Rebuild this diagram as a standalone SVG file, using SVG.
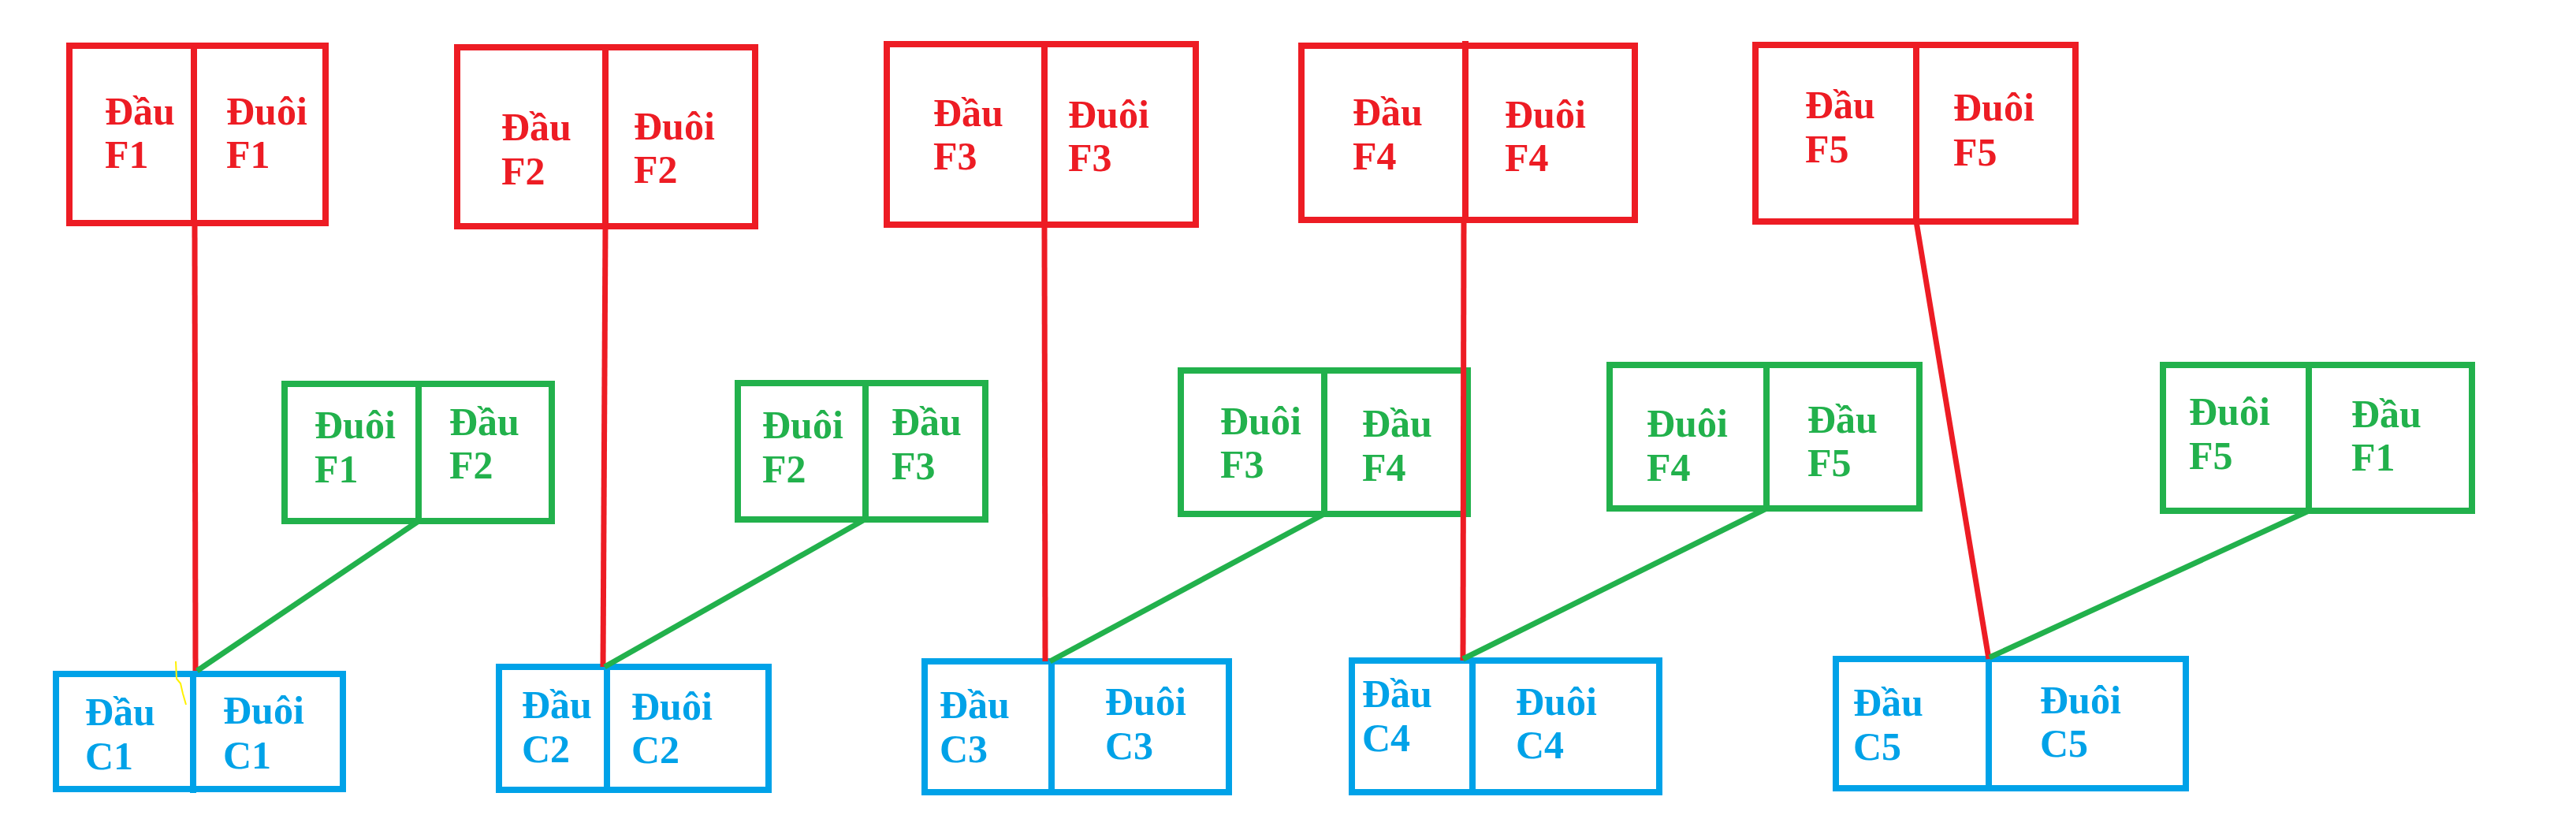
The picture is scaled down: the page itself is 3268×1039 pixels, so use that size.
<svg xmlns="http://www.w3.org/2000/svg" width="3268" height="1039" viewBox="0 0 3268 1039">
<style>
rect{fill:none;stroke-width:8}
.r rect,.r line{stroke:#ED1C24}
.g rect,.g line{stroke:#22B14C}
.b rect,.b line{stroke:#00A2E8}
.r line,.g line,.b line{stroke-width:8}
text{font-family:"Liberation Serif","Times New Roman",serif;font-weight:bold;font-size:50px}
.r text{fill:#ED1C24}
.g text{fill:#22B14C}
.b text{fill:#00A2E8}
.cr{stroke:#ED1C24;stroke-width:7;fill:none}
.cg{stroke:#22B14C;stroke-width:7;fill:none}
</style>
<rect x="0" y="0" width="3268" height="1039" fill="#fff" style="fill:#fff;stroke:none"/>

<g id="F1" class="r"><rect x="88" y="58" width="325" height="225"/><line x1="246" y1="58" x2="246" y2="283"/><text x="133" y="158">Đầu</text><text x="133" y="213">F1</text><text x="287" y="158">Đuôi</text><text x="287" y="213">F1</text></g>
<g id="F2" class="r"><rect x="580" y="60" width="378" height="227"/><line x1="768" y1="60" x2="768" y2="287"/><text x="636" y="178">Đầu</text><text x="636" y="234">F2</text><text x="804" y="177">Đuôi</text><text x="804" y="232">F2</text></g>
<g id="F3" class="r"><rect x="1125" y="56" width="392" height="229"/><line x1="1325" y1="56" x2="1325" y2="285"/><text x="1184" y="160">Đầu</text><text x="1184" y="215">F3</text><text x="1355" y="162">Đuôi</text><text x="1355" y="217">F3</text></g>
<g id="F4" class="r"><rect x="1651" y="58" width="423" height="221"/><line x1="1859" y1="52" x2="1859" y2="279"/><text x="1716" y="159">Đầu</text><text x="1716" y="215">F4</text><text x="1909" y="162">Đuôi</text><text x="1909" y="217">F4</text></g>
<g id="F5" class="r"><rect x="2227" y="57" width="406" height="224"/><line x1="2431" y1="57" x2="2431" y2="281"/><text x="2290" y="150">Đầu</text><text x="2290" y="206">F5</text><text x="2478" y="153">Đuôi</text><text x="2478" y="210">F5</text></g>

<g id="G1" class="g"><rect x="361" y="487" width="339" height="174"/><line x1="531" y1="487" x2="531" y2="661"/><text x="399" y="556">Đuôi</text><text x="399" y="612">F1</text><text x="570" y="552">Đầu</text><text x="570" y="607">F2</text></g>
<g id="G2" class="g"><rect x="936" y="486" width="314" height="173"/><line x1="1098" y1="486" x2="1098" y2="659"/><text x="967" y="556">Đuôi</text><text x="967" y="612">F2</text><text x="1131" y="552">Đầu</text><text x="1131" y="608">F3</text></g>
<g id="G3" class="g"><rect x="1498" y="470" width="364" height="182"/><line x1="1680" y1="470" x2="1680" y2="652"/><text x="1548" y="551">Đuôi</text><text x="1548" y="606">F3</text><text x="1728" y="554">Đầu</text><text x="1728" y="610">F4</text></g>
<g id="G4" class="g"><rect x="2042" y="463" width="393" height="182"/><line x1="2241" y1="463" x2="2241" y2="645"/><text x="2089" y="554">Đuôi</text><text x="2089" y="610">F4</text><text x="2293" y="549">Đầu</text><text x="2293" y="604">F5</text></g>
<g id="G5" class="g"><rect x="2744" y="463" width="392" height="185"/><line x1="2929" y1="463" x2="2929" y2="648"/><text x="2777" y="539">Đuôi</text><text x="2777" y="595">F5</text><text x="2983" y="542">Đầu</text><text x="2983" y="597">F1</text></g>

<g id="C1" class="b"><rect x="71" y="855" width="364" height="146"/><line x1="245" y1="855" x2="245" y2="1006"/><text x="108" y="920">Đầu</text><text x="108" y="976">C1</text><text x="283" y="918">Đuôi</text><text x="283" y="975">C1</text></g>
<g id="C2" class="b"><rect x="633" y="846" width="342" height="156"/><line x1="770" y1="846" x2="770" y2="1002"/><text x="662" y="911">Đầu</text><text x="662" y="967">C2</text><text x="801" y="913">Đuôi</text><text x="801" y="968">C2</text></g>
<g id="C3" class="b"><rect x="1173" y="839" width="386" height="166"/><line x1="1334" y1="839" x2="1334" y2="1005"/><text x="1192" y="911">Đầu</text><text x="1192" y="967">C3</text><text x="1402" y="907">Đuôi</text><text x="1402" y="963">C3</text></g>
<g id="C4" class="b"><rect x="1715" y="838" width="390" height="167"/><line x1="1868" y1="838" x2="1868" y2="1005"/><text x="1728" y="897">Đầu</text><text x="1728" y="953">C4</text><text x="1923" y="907">Đuôi</text><text x="1923" y="962">C4</text></g>
<g id="C5" class="b"><rect x="2329" y="836" width="444" height="164"/><line x1="2523" y1="836" x2="2523" y2="1000"/><text x="2351" y="908">Đầu</text><text x="2351" y="964">C5</text><text x="2588" y="905">Đuôi</text><text x="2588" y="960">C5</text></g>

<g id="connectors">
<line class="cr" x1="247" y1="283" x2="248" y2="851"/>
<line class="cr" x1="768" y1="287" x2="765" y2="846"/>
<line class="cr" x1="1325" y1="285" x2="1326" y2="839"/>
<line class="cr" x1="1857" y1="279" x2="1856" y2="838"/>
<line class="cr" x1="2431" y1="281" x2="2523" y2="836"/>
<line class="cg" x1="531" y1="661" x2="250" y2="851"/>
<line class="cg" x1="1097" y1="659" x2="767" y2="846"/>
<line class="cg" x1="1680" y1="652" x2="1332" y2="839"/>
<line class="cg" x1="2241" y1="645" x2="1856" y2="836"/>
<line class="cg" x1="2929" y1="648" x2="2524" y2="834"/>
<path d="M223,839 L224,861 L229,867 L232,880 L236,894" stroke="#FFF200" stroke-width="2" fill="none"/>
</g>
</svg>
